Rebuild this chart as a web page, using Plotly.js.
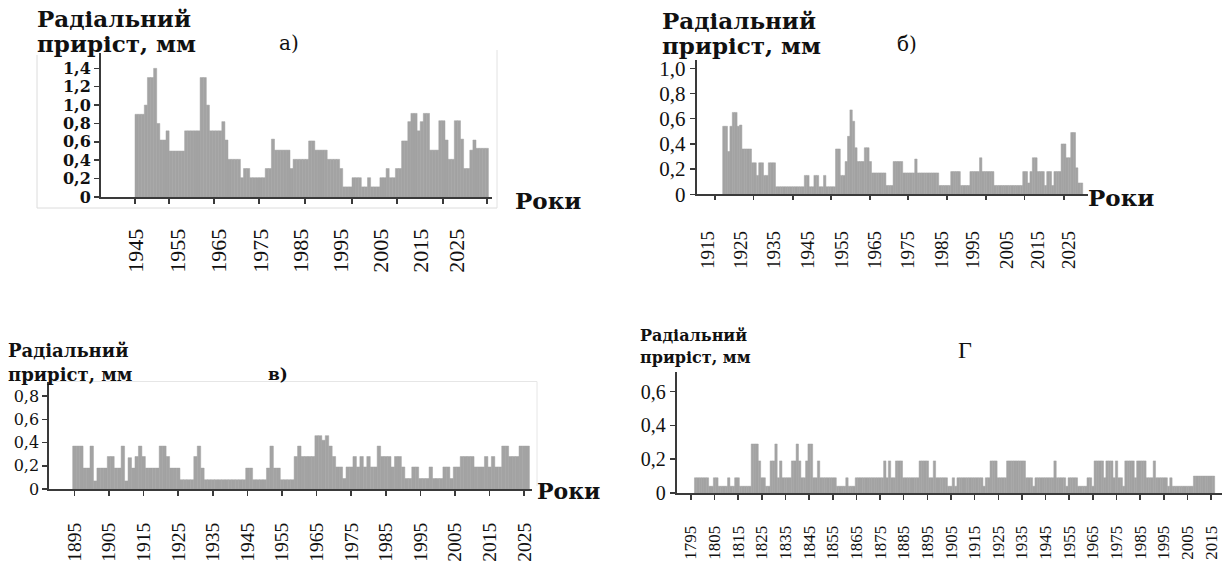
<!DOCTYPE html>
<html><head><meta charset="utf-8">
<script src="https://cdn.plot.ly/plotly-3.0.1.min.js"></script>
<style>html,body{margin:0;padding:0;background:#fff}#c{width:1222px;height:565px}</style>
</head><body><div id="c"></div>
<script>
// ---- DATA ----
// panel а) radial increment, mm (one value per bar)
const aVals = [0.9,0.9,0.9,1.0,1.3,1.3,1.4,0.8,0.62,0.62,
 0.72,0.5,0.5,0.5,0.5,0.5,0.72,0.72,0.72,0.72,
 0.72,1.3,1.3,1.0,0.72,0.72,0.72,0.72,0.82,0.62,
 0.41,0.41,0.41,0.41,0.21,0.31,0.31,0.21,0.21,0.21,
 0.21,0.21,0.31,0.31,0.63,0.51,0.51,0.51,0.51,0.51,
 0.31,0.41,0.41,0.41,0.41,0.41,0.61,0.61,0.51,0.51,
 0.51,0.51,0.41,0.41,0.41,0.41,0.31,0.11,0.11,0.11,
 0.21,0.21,0.21,0.11,0.11,0.21,0.11,0.11,0.11,0.21,
 0.21,0.31,0.21,0.21,0.31,0.31,0.61,0.61,0.82,0.91,
 0.91,0.72,0.82,0.91,0.91,0.51,0.51,0.51,0.83,0.83,
 0.62,0.41,0.41,0.83,0.83,0.63,0.31,0.31,0.51,0.62,
 0.53,0.53,0.53,0.53];
const aTickLabels = ['1945','1955','1965','1975','1985','1995','2005','2015','2025'];
const aYLabels = ['0','0,2','0,4','0,6','0,8','1,0','1,2','1,4'];
const aYVals = [0,0.2,0.4,0.6,0.8,1.0,1.2,1.4];

// panel б)
const bVals = [0.54,0.54,0.34,0.54,0.65,0.65,0.54,0.55,0.36,0.36,
 0.36,0.36,0.25,0.25,0.15,0.25,0.25,0.15,0.15,0.25,
 0.25,0.25,0.06,0.06,0.06,0.06,0.06,0.06,0.06,0.06,
 0.06,0.06,0.06,0.06,0.15,0.15,0.06,0.06,0.15,0.15,
 0.06,0.06,0.15,0.06,0.06,0.06,0.06,0.36,0.36,0.15,
 0.15,0.26,0.46,0.67,0.58,0.37,0.26,0.26,0.26,0.37,
 0.37,0.26,0.17,0.17,0.17,0.17,0.17,0.17,0.07,0.07,
 0.07,0.26,0.26,0.26,0.26,0.17,0.17,0.17,0.17,0.17,
 0.28,0.17,0.17,0.17,0.17,0.17,0.17,0.17,0.17,0.17,
 0.07,0.07,0.07,0.07,0.07,0.18,0.18,0.18,0.18,0.07,
 0.07,0.07,0.07,0.18,0.18,0.18,0.18,0.29,0.18,0.18,
 0.18,0.18,0.18,0.07,0.07,0.07,0.07,0.07,0.07,0.07,
 0.07,0.07,0.07,0.07,0.07,0.18,0.18,0.09,0.18,0.29,
 0.29,0.18,0.18,0.18,0.07,0.18,0.18,0.07,0.18,0.18,
 0.18,0.40,0.40,0.29,0.29,0.49,0.49,0.21,0.09,0.09];
const bTickLabels = ['1915','1925','1935','1945','1955','1965','1975','1985','1995','2005','2015','2025'];
const bYLabels = ['0','0,2','0,4','0,6','0,8','1,0'];
const bYVals = [0,0.2,0.4,0.6,0.8,1.0];

// panel в) years 1895..2026
const cFirstYear = 1895;
const cVals = [0.37,0.37,0.37,0.18,0.18,0.37,0.07,0.18,0.18,0.18,
 0.28,0.28,0.18,0.18,0.37,0.07,0.27,0.18,0.28,0.37,
 0.28,0.18,0.18,0.18,0.18,0.37,0.37,0.28,0.18,0.18,
 0.18,0.08,0.08,0.08,0.08,0.28,0.37,0.18,0.08,0.08,
 0.08,0.08,0.08,0.08,0.08,0.08,0.08,0.08,0.08,0.08,
 0.18,0.18,0.08,0.08,0.08,0.08,0.18,0.37,0.18,0.18,
 0.08,0.08,0.08,0.08,0.28,0.37,0.28,0.28,0.28,0.28,
 0.46,0.46,0.42,0.46,0.37,0.28,0.19,0.19,0.09,0.19,
 0.19,0.28,0.19,0.28,0.19,0.28,0.19,0.19,0.37,0.28,
 0.28,0.28,0.19,0.28,0.28,0.19,0.09,0.09,0.19,0.19,
 0.09,0.09,0.09,0.19,0.09,0.09,0.09,0.19,0.19,0.09,
 0.19,0.19,0.28,0.28,0.28,0.28,0.19,0.19,0.19,0.28,
 0.19,0.28,0.19,0.19,0.37,0.37,0.28,0.28,0.28,0.37,
 0.37,0.37];
const cTickYears = [1895,1905,1915,1925,1935,1945,1955,1965,1975,1985,1995,2005,2015,2025];
const cYLabels = ['0','0,2','0,4','0,6','0,8'];
const cYVals = [0,0.2,0.4,0.6,0.8];

// panel г) years 1797..2016
const dFirstYear = 1797;
const dVals = [0.09,0.09,0.09,0.09,0.09,0.09,0.04,0.04,0.09,0.09,
 0.04,0.04,0.04,0.04,0.09,0.04,0.04,0.09,0.09,0.04,
 0.04,0.04,0.04,0.04,0.29,0.29,0.29,0.19,0.09,0.09,
 0.04,0.04,0.19,0.19,0.29,0.09,0.19,0.09,0.09,0.09,
 0.09,0.19,0.19,0.29,0.19,0.09,0.09,0.19,0.29,0.29,
 0.09,0.09,0.19,0.09,0.09,0.09,0.09,0.09,0.09,0.09,
 0.04,0.04,0.04,0.04,0.09,0.04,0.04,0.04,0.09,0.09,
 0.09,0.09,0.09,0.09,0.09,0.09,0.09,0.09,0.09,0.09,
 0.19,0.09,0.19,0.09,0.09,0.19,0.19,0.19,0.09,0.09,
 0.09,0.09,0.09,0.09,0.09,0.19,0.19,0.19,0.19,0.09,
 0.09,0.19,0.09,0.09,0.09,0.09,0.09,0.04,0.04,0.09,
 0.04,0.09,0.09,0.09,0.09,0.09,0.09,0.09,0.09,0.09,
 0.09,0.09,0.04,0.09,0.09,0.19,0.19,0.19,0.09,0.09,
 0.09,0.09,0.19,0.19,0.19,0.19,0.19,0.19,0.19,0.19,
 0.09,0.09,0.09,0.04,0.09,0.09,0.09,0.09,0.09,0.09,
 0.09,0.09,0.19,0.09,0.09,0.09,0.09,0.04,0.09,0.09,
 0.09,0.09,0.04,0.04,0.04,0.04,0.09,0.09,0.04,0.19,
 0.19,0.19,0.19,0.09,0.19,0.19,0.19,0.09,0.19,0.09,
 0.09,0.04,0.19,0.19,0.19,0.19,0.09,0.19,0.19,0.19,
 0.19,0.09,0.09,0.09,0.19,0.09,0.09,0.09,0.09,0.09,
 0.04,0.09,0.04,0.04,0.04,0.04,0.04,0.04,0.04,0.04,
 0.04,0.1,0.1,0.1,0.1,0.1,0.1,0.1,0.1,0.1];
const dTickYears = [1795,1805,1815,1825,1835,1845,1855,1865,1875,1885,1895,1905,1915,1925,1935,1945,1955,1965,1975,1985,1995,2005,2015];
const dYLabels = ['0','0,2','0,4','0,6'];
const dYVals = [0,0.2,0.4,0.6];

const titleLine1 = 'Радіальний';
const titleLine2 = 'приріст, мм';
const xName = 'Роки';

// ---- LAYOUT ----
const W = 1222, H = 565;
const fx = p => p / W, fy = p => 1 - p / H;
const BAR = '#a3a3a3', AX = '#3a3a3a', TXT = '#111';
const serif = 'Liberation Serif, Times New Roman, serif';
const wide = 'DejaVu Serif, serif';

function bar(vals, xa, ya, x0) {
  const t = {type:'bar', y: vals, xaxis: xa, yaxis: ya, hoverinfo:'skip',
    marker:{color: BAR, line:{color: BAR, width: 0.5}}};
  if (x0 !== undefined) { t.x0 = x0; t.dx = 1; }
  return t;
}
const ghost = (xa, ya) => ({type:'scatter', x:[], y:[], xaxis: xa, yaxis: ya, hoverinfo:'skip', showlegend:false});

const data = [
  bar(aVals, 'x', 'y'),
  bar(bVals, 'x2', 'y2'),
  bar(cVals, 'x3', 'y3', cFirstYear),
  bar(dVals, 'x4', 'y4', dFirstYear),
  ghost('x5', 'y'),
  ghost('x6', 'y2')
];

function xax(dom, rng, anchor, vals, text, size, standoff, ticks) {
  return {domain: dom, range: rng, anchor: anchor, showline: true, linecolor: AX, linewidth: 2,
    showgrid: false, zeroline: false, ticks: ticks || '', ticklen: 5, tickcolor: AX, tickwidth: 1.5,
    tickmode: 'array', tickvals: vals, ticktext: text, tickangle: -90, ticklabeloverflow: 'allow',
    tickfont: {family: serif, size: size, color: TXT}, ticklabelstandoff: standoff, fixedrange: true};
}
function yax(dom, rng, anchor, vals, text, font) {
  return {domain: dom, range: rng, anchor: anchor, showline: true, linecolor: AX, linewidth: 2,
    showgrid: false, zeroline: false, ticks: 'outside', ticklen: 5, tickcolor: AX, tickwidth: 1.5,
    tickmode: 'array', tickvals: vals, ticktext: text, tickfont: font, fixedrange: true};
}

// label / tick positions (bar-index units) for panels а and б
const aLabelPos = [-0.2, 13.4, 26.6, 40.1, 53.0, 65.9, 78.8, 91.7, 103.4];
const aMarkPos = [-0.5, 10.6, 25.1, 39.6, 54.3, 69.4, 84.1, 98.8, 113.2];
const bLabelPos = [-6.6, 7.1, 20.9, 35.0, 49.2, 62.9, 76.7, 90.8, 103.8, 118.0, 130.9, 143.9];
const bMarkPos = [-3.7, 12.3, 28.7, 44.6, 60.8, 76.8, 93.0, 109.1, 125.3, 141.7];

const aRange = [-11.47, 114.66], bRange = [-11.33, 151.7];

const layout = {
  width: W, height: H, margin: {l:0, r:0, t:0, b:0}, showlegend: false,
  paper_bgcolor: '#fff', plot_bgcolor: 'rgba(0,0,0,0)', bargap: 0,
  xaxis: xax([fx(101), fx(492)], aRange, 'y', aLabelPos, aTickLabels, 22, 21),
  yaxis: yax([fy(197), fy(53)], [0, 1.567], 'x', aYVals, aYLabels, {family: wide, size: 16, weight: 700, color: TXT}),
  xaxis2: xax([fx(696.7), fx(1088)], bRange, 'y2', bLabelPos, bTickLabels, 19, 27),
  yaxis2: yax([fy(194.3), fy(60)], [0, 1.066], 'x2', bYVals, bYLabels, {family: serif, size: 21, color: TXT}),
  xaxis3: xax([fx(49.3), fx(532)], [1887.74, 2027.25], 'y3', cTickYears, cTickYears.map(String), 19.5, 19, 'outside'),
  yaxis3: yax([fy(489), fy(381.7)], [0, 0.925], 'x3', cYVals, cYLabels, {family: wide, size: 16, color: TXT}),
  xaxis4: xax([fx(676.7), 1], [1789.0, 2019.6], 'y4', dTickYears, dTickYears.map(String), 17, 19, 'outside'),
  yaxis4: yax([fy(493), fy(372)], [0, 0.716], 'x4', dYVals, dYLabels, {family: serif, size: 20, color: TXT}),
  xaxis5: {overlaying: 'x', anchor: 'y', range: aRange, showline: false, showgrid: false, zeroline: false,
    ticks: 'outside', ticklen: 6, tickwidth: 2, tickcolor: AX, tickmode: 'array', tickvals: aMarkPos, showticklabels: false, fixedrange: true},
  xaxis6: {overlaying: 'x2', anchor: 'y2', range: bRange, showline: false, showgrid: false, zeroline: false,
    ticks: 'outside', ticklen: 5, tickwidth: 1.5, tickcolor: AX, tickmode: 'array', tickvals: bMarkPos, showticklabels: false, fixedrange: true},
  shapes: [
    {type:'line', xref:'paper', yref:'paper', x0: fx(37), x1: fx(37), y0: fy(55), y1: fy(208), line:{color:'#dcdcdc', width:1}},
    {type:'line', xref:'paper', yref:'paper', x0: fx(37), x1: fx(497), y0: fy(208), y1: fy(208), line:{color:'#dcdcdc', width:1}},
    {type:'line', xref:'paper', yref:'paper', x0: fx(497), x1: fx(497), y0: fy(50), y1: fy(208), line:{color:'#e2e2e2', width:1}},
    {type:'line', xref:'paper', yref:'paper', x0: fx(49), x1: fx(537), y0: fy(381.5), y1: fy(381.5), line:{color:'#e6e6e6', width:1}},
    {type:'line', xref:'paper', yref:'paper', x0: fx(537), x1: fx(537), y0: fy(381.5), y1: fy(486), line:{color:'#e6e6e6', width:1}}
  ],
  annotations: []
};

function note(text, x, y, font) {
  layout.annotations.push({text: text, x: fx(x), y: fy(y), xref:'paper', yref:'paper',
    xanchor:'left', yanchor:'middle', showarrow:false, font: Object.assign({color: TXT}, font)});
}
const titleBig = {family: wide, size: 23, weight: 700};
note(titleLine1, 35, 19, titleBig);
note(titleLine2, 35, 44, titleBig);
note('а)', 277, 43, {family: wide, size: 20});
note(xName, 513, 200, {family: wide, size: 23, weight: 700});

note(titleLine1, 660, 20, titleBig);
note(titleLine2, 660, 45, titleBig);
note('б)', 895, 44, {family: wide, size: 20});
note(xName, 1086, 197, {family: wide, size: 23, weight: 700});

note(titleLine1, 6, 350, {family: wide, size: 18, weight: 700});
note(titleLine2, 6, 374, {family: wide, size: 18, weight: 700});
note('в)', 266, 374, {family: wide, size: 17, weight: 700});
note(xName, 535, 491, {family: wide, size: 22, weight: 700});

note(titleLine1, 638, 335, {family: wide, size: 16, weight: 700});
note(titleLine2, 638, 357, {family: wide, size: 16, weight: 700});
note('Г', 956, 350, {family: serif, size: 24});

Plotly.newPlot('c', data, layout, {staticPlot: true, displayModeBar: false});
</script>
</body></html>
